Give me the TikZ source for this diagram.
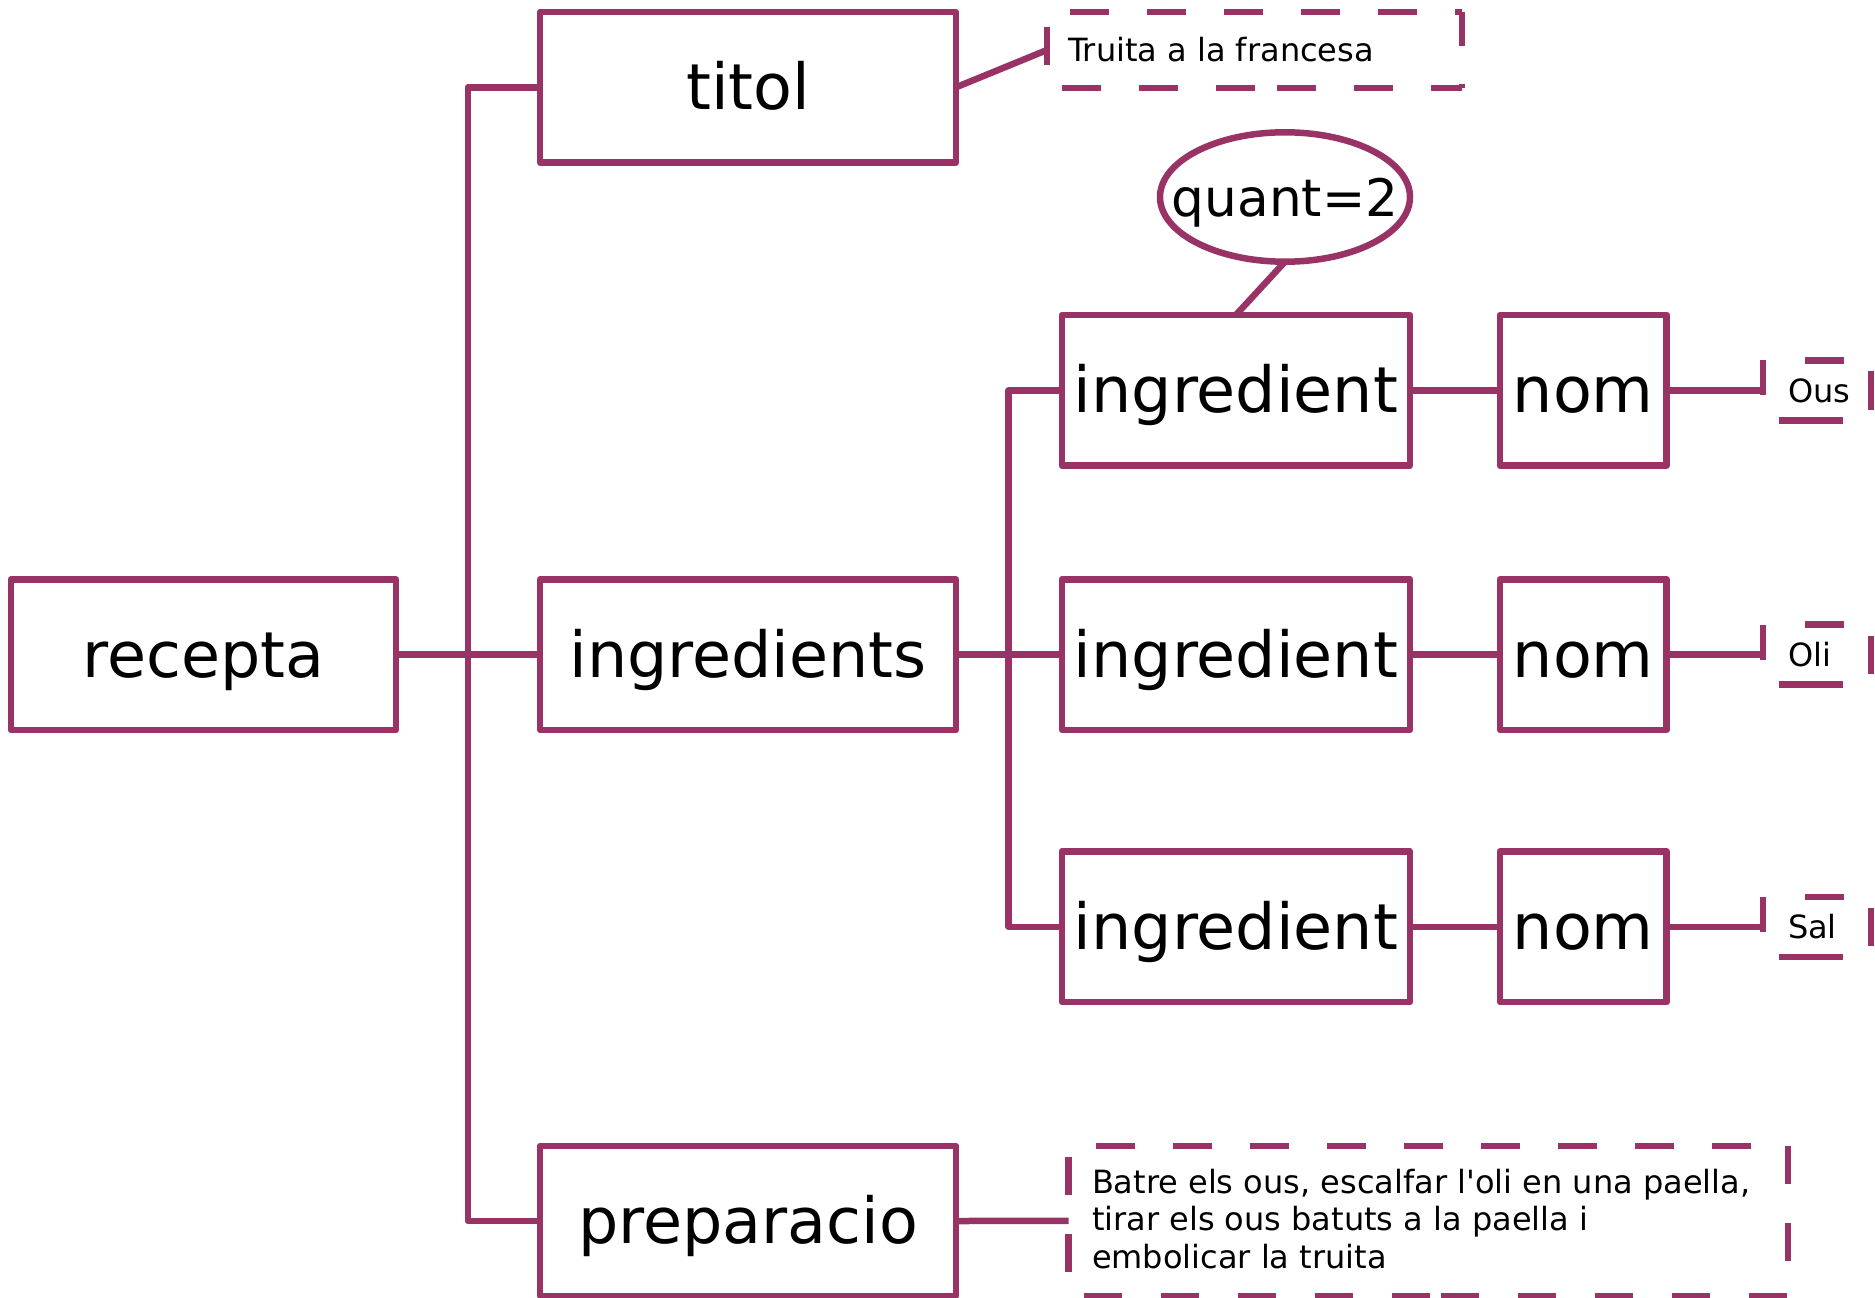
\documentclass[tikz,border=0pt]{standalone}
\usepackage{fontspec}
\setmainfont{DejaVu Sans}[Ligatures=TeXOff]
\usetikzlibrary{shapes.geometric}
\definecolor{plum}{RGB}{153,51,102}
\begin{document}
\begin{tikzpicture}[x=1pt,y=-1pt,line width=6.5pt,line join=round,
  box/.style={draw=plum,rectangle,minimum height=150.7pt,inner sep=0pt,outer sep=0pt,
    font=\fontsize{63.5}{76}\selectfont,text height=44.8pt,text depth=0pt},
  bigbox/.style={box,minimum width=415.8pt},
  ingbox/.style={box,minimum width=348.2pt},
  nombox/.style={box,minimum width=166.7pt},
  note/.style={draw=none,rectangle,inner sep=0pt,outer sep=0pt,font=\fontsize{32}{37.5}\selectfont},
  smallnote/.style={note,minimum width=108pt,minimum height=60pt,text height=23.4pt,text depth=0pt},
  conn/.style={draw=plum},
  nd/.style={draw=plum,dash pattern=on 38.5pt off 38.5pt}]
\useasboundingbox (0,0) rectangle (1875,1298);
\clip (0,0) rectangle (1875,1298);

% main boxes
\node[box,minimum width=385pt] (recepta) at (203.5,654.6) {recepta};
\node[bigbox] (titol) at (748.1,87.3) {titol};
\node[bigbox] (ingredients) at (748.1,654.6) {ingredients};
\node[bigbox,minimum height=150pt] (prep) at (748.1,1221) {preparacio};

\node[ingbox] (ing1) at (1235.9,390.3) {ingredient};
\node[ingbox] (ing2) at (1235.9,654.6) {ingredient};
\node[ingbox] (ing3) at (1235.9,926.8) {ingredient};

\node[nombox] (nom1) at (1583.3,390.3) {nom};
\node[nombox] (nom2) at (1583.3,654.6) {nom};
\node[nombox] (nom3) at (1583.3,926.8) {nom};

\node[draw=plum,ellipse,minimum width=250pt,minimum height=129.4pt,inner sep=0pt,outer sep=0pt,
  font=\fontsize{51.7}{62}\selectfont,text height=39.4pt,text depth=0pt] (quant) at (1285,197) {\makebox[0pt]{quant=2}};

% notes
\node[note,minimum width=415pt,minimum height=76pt,text height=24pt,text depth=0pt] (n1) at (1254.5,50) {\makebox[373pt][l]{Truita a la francesa}};
\node[smallnote] (n2) at (1817,390.3) {\makebox[58pt][l]{Ous}};
\node[smallnote] (n3) at (1817,654.6) {\makebox[58pt][l]{Oli}};
\node[smallnote] (n4) at (1817,926.8) {\makebox[58pt][l]{Sal}};
\node[note,minimum width=719.4pt,minimum height=150.3pt] (n5) at (1428.3,1220.9)
  {\raisebox{27.6pt}[0pt][0pt]{\parbox[t]{672.6pt}{\raggedright Batre els ous, escalfar l'oli en una paella,\\tirar els ous batuts a la paella i\\embolicar la truita}}};

% trunk coordinates
\coordinate (t1) at (468,654.6);
\coordinate (t2) at (1008.6,654.6);

% connectors
\draw[conn] (titol.west) -| (t1) |- (prep.west);
\draw[conn] (recepta.east) -- (ingredients.west);
\draw[conn] (ing1.west) -| (t2) |- (ing3.west);
\draw[conn] (ingredients.east) -- (ing2.west);
\draw[conn] (ing1.east) -- (nom1.west);
\draw[conn] (ing2.east) -- (nom2.west);
\draw[conn] (ing3.east) -- (nom3.west);
\draw[conn] (nom1.east) -- (n2.west);
\draw[conn] (nom2.east) -- (n3.west);
\draw[conn] (nom3.east) -- (n4.west);
\draw[conn] (titol.east) -- (n1.west);
\draw[conn] (prep.east) -- (n5.west);
\draw[conn] (quant.south) -- (ing1.north);

% dashed borders of notes
\draw[nd,dash phase=54pt] (n1.north west) -- (n1.north east);
\draw[nd,dash phase=4.5pt] (n1.north east) -- (n1.south east);
\draw[nd,dash phase=62pt] (n1.south west) -- ([xshift=215pt]n1.south west);
\draw[nd,dash phase=62pt] ([xshift=215pt]n1.south west) -- (n1.south east);
\draw[nd,dash phase=62pt] (n1.north west) -- (n1.south west);

\foreach \n in {n2,n3,n4}{
  \draw[nd,dash phase=3.5pt] (\n.north west) -- (\n.south west);
  \draw[draw=plum,dash pattern=on 39pt off 42pt,dash phase=39pt] (\n.north west) -- (\n.north east);
  \draw[nd,dash phase=66pt] (\n.north east) -- (\n.south east);
  \draw[draw=plum,dash pattern=on 64pt off 44pt,dash phase=92pt] (\n.south west) -- (\n.south east);
}

\draw[nd,dash phase=49.6pt] (n5.north west) -- (n5.north east);
\draw[nd,dash phase=0pt] (n5.north east) -- (n5.south east);
\draw[nd,dash phase=66pt] (n5.north west) -- (n5.south west);
\draw[nd,dash phase=62pt] (n5.south west) -- ([xshift=367.4pt]n5.south west);
\draw[nd,dash phase=72.2pt] ([xshift=367.4pt]n5.south west) -- (n5.south east);
\end{tikzpicture}
\end{document}
